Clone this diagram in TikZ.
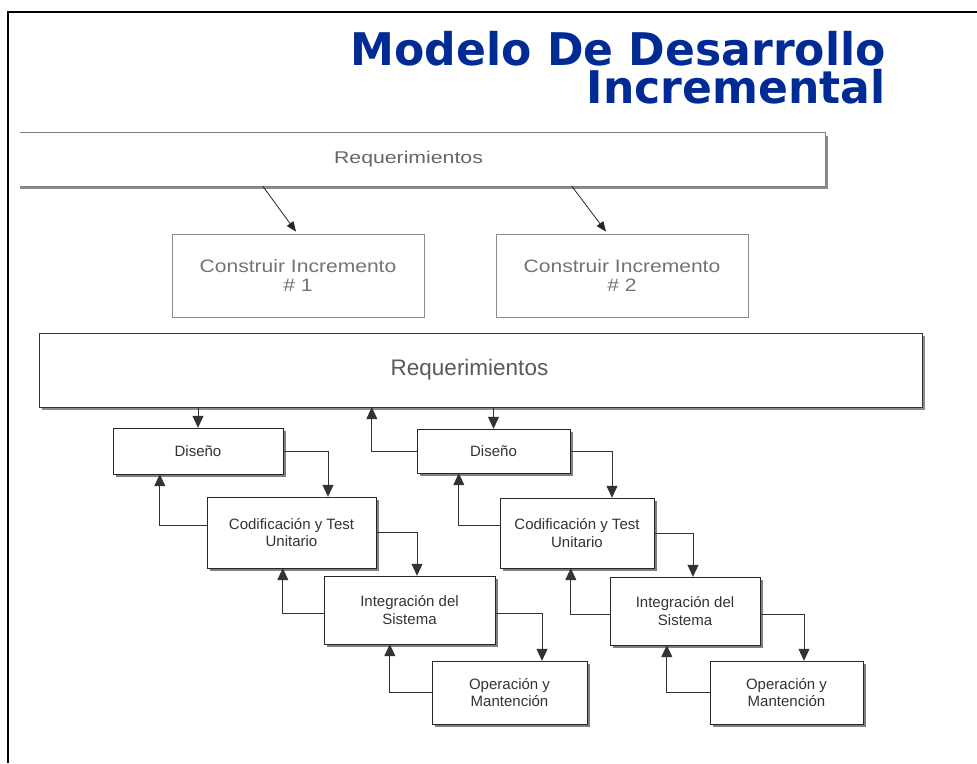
\documentclass[tikz,border=0pt]{standalone}
\usepackage{fontspec}
\usepackage{graphicx}
\setmainfont{Liberation Sans}
\newfontfamily\titlefont{DejaVu Sans}
\usetikzlibrary{arrows.meta, calc, shadows}

\definecolor{titleblue}{RGB}{0,42,148}

\tikzset{
  phase/.style={draw=black!85, fill=white, align=center, text=black!80,
    font=\fontsize{15}{17.5}\selectfont,
    drop shadow={shadow xshift=3pt, shadow yshift=-3pt, fill=black!50, opacity=1}},
  incbox/.style={draw=black!45, line width=0.8pt, align=center, text=black!55,
    minimum width=252pt, minimum height=83pt,
    font=\fontsize{18}{19}\selectfont},
  reqbox/.style={draw=black!80, fill=white, text=black!65, minimum width=883pt,
    minimum height=74pt, font=\fontsize{22.5}{24}\selectfont,
    drop shadow={shadow xshift=3pt, shadow yshift=-3pt, fill=black!45, opacity=1}},
  link/.style={-{Triangle[length=12pt,width=11pt]}, draw=black!80, line width=1pt},
  titletext/.style={anchor=north east, inner sep=0pt, text=titleblue, align=right,
    font=\titlefont\bfseries\fontsize{45}{38}\selectfont},
}

\begin{document}
\begin{tikzpicture}[x=1pt, y=-1pt]
\useasboundingbox (0,0) rectangle (977,763);

% marco
\draw[line width=2pt] (8,763) -- (8,12) -- (977,12);

% titulo
\node (title) [titletext] at (886,31)
  {\scalebox{0.98}[1]{Modelo De Desarrollo}\\\scalebox{0.98}[1]{Incremental}};

% requerimientos generales
\node (reqtop) [minimum width=805pt, minimum height=53pt, text=black!60, font=\fontsize{17}{18}\selectfont]
  at (422.5,159.5) {\hspace*{-28pt}\scalebox{1.25}[1]{Requerimientos}};
\draw[black!45, line width=3pt] ($(reqtop.south west)+(0,1.5)$) -| ($(reqtop.north east)+(1.5,3)$);
\draw[black!50, line width=0.8pt] (reqtop.north west) -- (reqtop.north east)
  -- (reqtop.south east) -- (reqtop.south west);

% incrementos
\node (con1) [incbox] at (298,275.5) {\scalebox{1.17}[1]{Construir Incremento}\\\scalebox{1.17}[1]{\# 1}};
\node (con2) [incbox] at (622,275.5) {\scalebox{1.17}[1]{Construir Incremento}\\\scalebox{1.17}[1]{\# 2}};
\draw[-{Triangle[length=10pt,width=8pt]}, black!85, line width=0.8pt]
  ($(reqtop.south west)+(243,0)$) -- ($(con1.north)+(-2,-2)$);
\draw[-{Triangle[length=10pt,width=8pt]}, black!85, line width=0.8pt]
  ($(reqtop.south west)+(552,0)$) -- ($(con2.north)+(-16,-2)$);

% requerimientos
\node (req) [reqbox] at (480.5,370) {\hspace*{-22pt}Requerimientos};

% fases incremento 1
\node (dis1) [phase, minimum width=170pt, minimum height=46pt] at (198,451) {Diseño};
\node (cod1) [phase, minimum width=169pt, minimum height=71pt] at (291.5,532.5) {Codificación y Test\\Unitario};
\node (int1) [phase, minimum width=171pt, minimum height=68pt] at (409.5,610) {Integración del\\Sistema};
\node (op1)  [phase, minimum width=155pt, minimum height=63pt] at (509.5,692.5) {Operación y\\Mantención};

% fases incremento 2
\node (dis2) [phase, minimum width=153pt, minimum height=44pt] at (493.5,451) {Diseño};
\node (cod2) [phase, minimum width=154pt, minimum height=70pt] at (577,533) {Codificación y Test\\Unitario};
\node (int2) [phase, minimum width=150pt, minimum height=68pt] at (685,611) {Integración del\\Sistema};
\node (op2)  [phase, minimum width=153pt, minimum height=63pt] at (786.5,692.5) {Operación y\\Mantención};

% flechas incremento 1
\draw[link] (dis1.north |- req.south) -- (dis1.north);
\draw[link] (dis1.east) -| ($(cod1.north)+(36.5,0)$);
\draw[link] ($(cod1.west)+(0,-7.5)$) -| ($(dis1.south west)+(47,0)$);
\draw[link] (cod1.east) -| ($(int1.north)+(7.5,0)$);
\draw[link] ($(int1.west)+(0,3)$) -| ($(cod1.south west)+(76,0)$);
\draw[link] ($(int1.east)+(0,3)$) -| ($(op1.north)+(32.5,0)$);
\draw[link] (op1.west) -| ($(int1.south west)+(66,0)$);

% flechas incremento 2
\draw[link] (dis2.west) -| ($(req.south west)+(333,0)$);
\draw[link] (dis2.north |- req.south) -- (dis2.north);
\draw[link] (dis2.east) -| ($(cod2.north)+(35,0)$);
\draw[link] ($(cod2.west)+(0,-8)$) -| ($(dis2.south west)+(42,0)$);
\draw[link] (cod2.east) -| ($(int2.north)+(8,0)$);
\draw[link] ($(int2.west)+(0,3)$) -| ($(cod2.south west)+(71,0)$);
\draw[link] ($(int2.east)+(0,3)$) -| ($(op2.north)+(17.5,0)$);
\draw[link] (op2.west) -| ($(int2.south west)+(57,0)$);
\end{tikzpicture}
\end{document}
